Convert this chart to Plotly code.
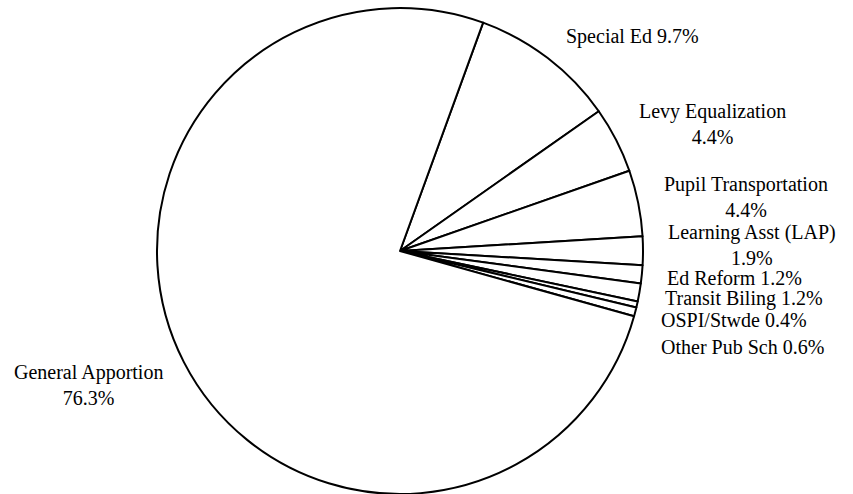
import plotly.graph_objects as go

# Data
categories = ["Special Ed", "Levy Equalization", "Pupil Transportation",
              "Learning Asst (LAP)", "Ed Reform", "Transit Biling",
              "OSPI/Stwde", "Other Pub Sch", "General Apportion"]
values = [9.7, 4.4, 4.4, 1.9, 1.2, 1.2, 0.4, 0.6, 76.3]
# whether label wraps percent onto a second line
two_line = [False, True, True, True, False, False, False, False, True]

# Layout constants (label centres in pixels of the 853x494 canvas)
W, H = 853, 494
label_pos = [(632, 36), (712, 124), (746, 197), (752, 245), (734, 278),
             (744, 298), (734, 320), (742, 347), (88, 385)]
cx, cy, r = 400, 251, 243

fig = go.Figure(go.Pie(
    labels=categories,
    values=values,
    sort=False,
    direction="clockwise",
    rotation=20,
    textinfo="none",
    hoverinfo="label+value",
    marker=dict(colors=["white"] * len(values), line=dict(color="black", width=2)),
    showlegend=False,
    domain=dict(x=[(cx - r) / W, (cx + r) / W], y=[(H - cy - r) / H, (H - cy + r) / H]),
))

annotations = []
for name, v, two, (px, py) in zip(categories, values, two_line, label_pos):
    txt = f"{name}<br>{v:.1f}%" if two else f"{name} {v:.1f}%"
    annotations.append(dict(
        x=px / W, y=1 - py / H, xref="paper", yref="paper",
        text=txt, showarrow=False, xanchor="center", yanchor="middle",
        align="center",
        font=dict(family="Liberation Serif, Times New Roman, serif", size=20, color="black"),
    ))

fig.update_layout(
    width=W, height=H,
    margin=dict(l=0, r=0, t=0, b=0),
    paper_bgcolor="white", plot_bgcolor="white",
    annotations=annotations,
)

fig.write_html("out.html", config={"displayModeBar": False},
               post_script="document.body.style.margin='0';document.body.style.overflow='hidden';")
